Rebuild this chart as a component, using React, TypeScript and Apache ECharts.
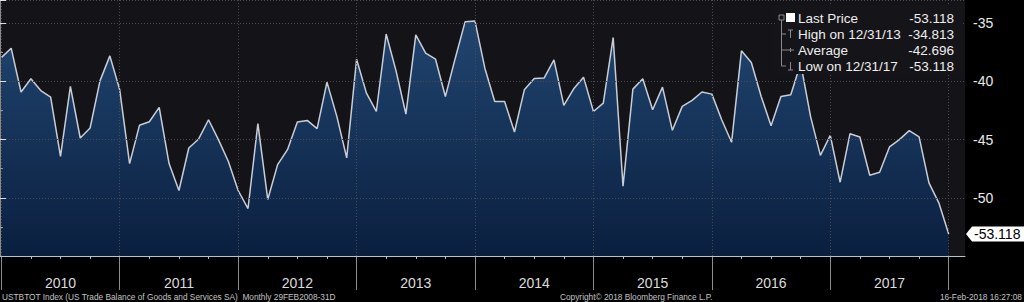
import React, { useEffect, useRef } from 'react';
import * as echarts from 'echarts';

// Monthly points, first point = Dec 2009, last = Dec 2017
const yearLabels = ['2010', '2011', '2012', '2013', '2014', '2015', '2016', '2017'];
const balanceDec2009 = [-37.95];
const balance2010 = [-37.14, -40.91, -39.77, -40.78, -41.34, -46.43, -40.43, -44.86, -44.0, -39.95, -37.8, -40.72];
const balance2011 = [-47.06, -43.77, -43.46, -42.23, -47.06, -49.37, -45.72, -44.94, -43.29, -45.0, -46.86, -49.37];
const balance2012 = [-50.92, -43.63, -50.14, -47.15, -45.86, -43.49, -43.35, -44.06, -40.06, -43.0, -46.57, -38.09];
const balance2013 = [-41.0, -42.58, -35.92, -39.09, -42.8, -36.0, -37.57, -38.09, -41.29, -38.0, -34.86, -34.813];
const balance2014 = [-38.86, -41.72, -41.72, -44.34, -40.72, -39.75, -39.71, -38.14, -42.06, -40.63, -39.63, -42.58];
const balance2015 = [-41.86, -36.23, -49.0, -40.66, -39.77, -42.43, -40.49, -44.2, -42.14, -41.63, -40.91, -41.09];
const balance2016 = [-43.29, -45.23, -37.37, -38.37, -41.29, -43.8, -41.29, -41.14, -38.43, -43.0, -46.35, -44.63];
const balance2017 = [-48.66, -44.49, -44.77, -48.06, -47.8, -45.63, -45.0, -44.23, -44.77, -48.71, -50.43, -53.118];

const tradeBalance = [
  ...balanceDec2009, ...balance2010, ...balance2011, ...balance2012, ...balance2013,
  ...balance2014, ...balance2015, ...balance2016, ...balance2017,
];

const yTickLabels = [-35, -40, -45, -50];
const averageValue = -42.696;
const highDate = '12/31/13';
const lowDate = '12/31/17';
const footerLeft = 'USTBTOT Index (US Trade Balance of Goods and Services SA)  Monthly 29FEB2008-31D';
const footerMid = 'Copyright\u00A9 2018 Bloomberg Finance L.P.';
const footerRight = '16-Feb-2018 16:27:08';

const FONT = 'Liberation Sans, Arial, sans-serif';

export default function App() {
  const ref = useRef<HTMLDivElement>(null);

  useEffect(() => {
    const chart = echarts.init(ref.current!, null, { renderer: 'svg' });
    const data = tradeBalance.map((v, i) => [i, v]);
    const n = tradeBalance.length;
    const last = tradeBalance[n - 1];
    const high = Math.max(...tradeBalance);
    const low = Math.min(...tradeBalance);

    const plotW = 965;
    const plotH = 256;
    const dataLeft = 1.3;
    const dataW = 947.4;
    const dotted = { color: '#4a4a52', type: [1, 2] as any, width: 1 };

    chart.setOption({
      animation: false,
      backgroundColor: '#000000',
      grid: [
        { left: 0, top: 0, width: plotW, height: plotH, show: true, backgroundColor: '#141318', borderWidth: 0 },
        { left: dataLeft, top: 0, width: dataW, height: plotH, show: false },
        { left: dataLeft, top: 0, width: dataW, height: plotH, show: false },
      ],
      xAxis: [
        {
          gridIndex: 0, type: 'value', min: 0, max: 1, z: 4,
          axisLine: { show: true, lineStyle: { color: '#b9c2cf', width: 1 } },
          axisTick: { show: false }, axisLabel: { show: false }, splitLine: { show: false },
        },
        {
          gridIndex: 1, type: 'value', min: 0, max: n - 1, interval: 12, z: 3,
          axisLine: { show: false },
          axisTick: { show: true, length: 34, lineStyle: { color: '#8c8c8c' } },
          minorTick: { show: true, splitNumber: 4, length: 3, lineStyle: { color: '#b9c2cf' } },
          axisLabel: { show: false },
          splitLine: { show: true, lineStyle: dotted },
        },
        {
          gridIndex: 2, type: 'category', data: yearLabels, boundaryGap: true, position: 'bottom',
          axisLine: { show: false }, axisTick: { show: false }, splitLine: { show: false },
          axisLabel: { color: '#dcdcdc', fontSize: 14, fontFamily: FONT, margin: 20 },
        },
      ],
      yAxis: [
        {
          gridIndex: 0, type: 'value', position: 'right', min: -55, max: -33, interval: 5, z: 3,
          axisLine: { show: true, lineStyle: { color: '#8a8a8a' } },
          axisTick: { show: true, length: 6, lineStyle: { color: '#e0e0e0' } },
          minorTick: { show: true, splitNumber: 2, length: 3, lineStyle: { color: '#9a9a9a' } },
          axisLabel: {
            color: '#e8e8e8', fontSize: 14, fontFamily: FONT, margin: 8,
            formatter: (v: number) => (yTickLabels.includes(v) ? String(v) : ''),
          },
          splitLine: { show: true, lineStyle: dotted },
        },
        { gridIndex: 1, type: 'value', min: -55, max: -33, show: false },
        { gridIndex: 2, type: 'value', show: false },
      ],
      series: [
        {
          type: 'line', xAxisIndex: 1, yAxisIndex: 1, data, symbol: 'none', z: 2,
          lineStyle: { color: '#c8cdd6', width: 1.5 },
          areaStyle: {
            origin: 'start', opacity: 1,
            color: new echarts.graphic.LinearGradient(0, 0, 0, 1, [
              { offset: 0, color: '#214570' },
              { offset: 1, color: '#0a1f3f' },
            ]),
          },
        },
      ],
    });

    const lastY = chart.convertToPixel({ yAxisIndex: 0 }, last) as number;
    const gray = '#8a8a8a';
    const legendText = '#eeeeee';
    const rows = [
      { label: 'Last Price', value: last, y: 18 },
      { label: `High on ${highDate}`, value: high, y: 34 },
      { label: 'Average', value: averageValue, y: 50 },
      { label: `Low on ${lowDate}`, value: low, y: 66 },
    ];

    const elements: any[] = [
      { type: 'rect', z: 10, shape: { x: 775, y: 4, width: 188, height: 70 }, style: { fill: '#151418' } },
      // tree icon
      { type: 'rect', z: 11, shape: { x: 779, y: 15, width: 5, height: 5 }, style: { fill: 'none', stroke: gray, lineWidth: 1 } },
      { type: 'line', z: 11, shape: { x1: 781.5, y1: 20, x2: 781.5, y2: 66 }, style: { stroke: gray, lineWidth: 1 } },
      { type: 'line', z: 11, shape: { x1: 781.5, y1: 34, x2: 786, y2: 34 }, style: { stroke: gray, lineWidth: 1 } },
      { type: 'line', z: 11, shape: { x1: 781.5, y1: 50, x2: 794, y2: 50 }, style: { stroke: gray, lineWidth: 1 } },
      { type: 'line', z: 11, shape: { x1: 781.5, y1: 66, x2: 786, y2: 66 }, style: { stroke: gray, lineWidth: 1 } },
      { type: 'rect', z: 11, shape: { x: 786, y: 13, width: 9, height: 9 }, style: { fill: '#ffffff' } },
      { type: 'line', z: 11, shape: { x1: 790.5, y1: 30, x2: 790.5, y2: 38 }, style: { stroke: gray, lineWidth: 1 } },
      { type: 'line', z: 11, shape: { x1: 788, y1: 30, x2: 793, y2: 30 }, style: { stroke: gray, lineWidth: 1 } },
      { type: 'line', z: 11, shape: { x1: 790.5, y1: 48, x2: 790.5, y2: 52 }, style: { stroke: gray, lineWidth: 1 } },
      { type: 'line', z: 11, shape: { x1: 790.5, y1: 62, x2: 790.5, y2: 70 }, style: { stroke: gray, lineWidth: 1 } },
      { type: 'line', z: 11, shape: { x1: 788, y1: 70, x2: 793, y2: 70 }, style: { stroke: gray, lineWidth: 1 } },
      // last price tag
      {
        type: 'polygon', z: 10,
        shape: { points: [[966, lastY], [972, lastY - 7.5], [1024, lastY - 7.5], [1024, lastY + 7.5], [972, lastY + 7.5]] },
        style: { fill: '#ffffff' },
      },
      {
        type: 'text', z: 11, x: 974, y: lastY,
        style: { text: last.toFixed(3), fill: '#000000', fontSize: 14, fontFamily: FONT, verticalAlign: 'middle', align: 'left' },
      },
      // footer
      { type: 'text', z: 11, x: 2, y: 297, style: { text: footerLeft, fill: '#c4c4c4', fontSize: 8.3, fontFamily: FONT, verticalAlign: 'middle' } },
      { type: 'text', z: 11, x: 560, y: 297, style: { text: footerMid, fill: '#c4c4c4', fontSize: 8.3, fontFamily: FONT, verticalAlign: 'middle' } },
      { type: 'text', z: 11, x: 1022, y: 297, style: { text: footerRight, fill: '#c4c4c4', fontSize: 8.3, fontFamily: FONT, verticalAlign: 'middle', align: 'right' } },
    ];
    rows.forEach((r) => {
      elements.push({
        type: 'text', z: 11, x: 798, y: r.y,
        style: { text: r.label, fill: legendText, fontSize: 13.5, fontFamily: FONT, verticalAlign: 'middle' },
      });
      elements.push({
        type: 'text', z: 11, x: 954, y: r.y,
        style: { text: r.value.toFixed(3), fill: legendText, fontSize: 13.5, fontFamily: FONT, verticalAlign: 'middle', align: 'right' },
      });
    });

    chart.setOption({ graphic: { elements } });

    return () => chart.dispose();
  }, []);

  return (
    <div
      ref={ref}
      style={{ position: 'fixed', left: 0, top: 0, width: 1024, height: 302, background: '#000' }}
    />
  );
}
